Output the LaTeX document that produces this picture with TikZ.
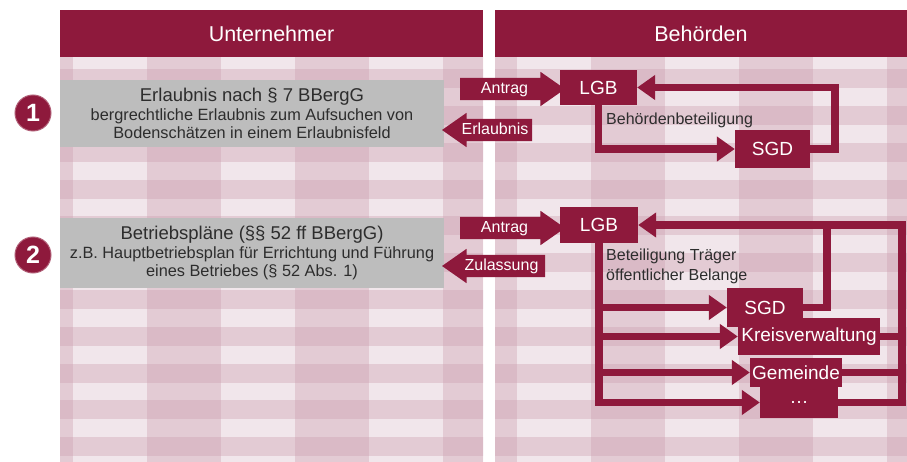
\documentclass[tikz,border=0pt]{standalone}
\usepackage{fontspec}
\setmainfont{Liberation Sans}
\usetikzlibrary{shapes.arrows,arrows.meta}
\definecolor{bred}{RGB}{142,25,60}
\definecolor{plaidbase}{RGB}{241,230,235}
\definecolor{plaidband}{RGB}{205,160,176}
\definecolor{boxgrey}{RGB}{189,189,189}
\definecolor{txtgrey}{RGB}{45,45,45}
\begin{document}
\begin{tikzpicture}[x=1pt,y=-1pt]
        \tikzstyle{head} = [rectangle, fill=bred, text=white, font=\fontsize{21.5}{24}\selectfont, minimum height=47pt, inner sep=0pt]
        \tikzstyle{block} = [rectangle, fill=bred, text=white, font=\fontsize{19}{22}\selectfont, inner sep=0pt]
        \tikzstyle{greybox} = [rectangle, fill=boxgrey, text=txtgrey, minimum width=384pt, align=center, font=\fontsize{16.3}{18.5}\selectfont, inner sep=0pt]
        \tikzstyle{arrowbox} = [single arrow, fill=bred, text=white, font=\fontsize{16}{18}\selectfont, single arrow head extend=6pt, single arrow tip angle=70, inner ysep=3.5pt, inner xsep=2pt, text height=12pt, text depth=3pt]
        \tikzstyle{num} = [circle, fill=bred, draw=bred!70!white, line width=1pt, text=white, font=\bfseries\fontsize{25}{25}\selectfont, minimum size=36pt, inner sep=0pt]
        \tikzstyle{note} = [text=txtgrey, font=\fontsize{16}{20}\selectfont, inner sep=0pt]
        \tikzstyle{line} = [-{Triangle[length=18pt,width=24pt]}, draw=bred, line width=7.5pt]
        \tikzstyle{rline} = [draw=bred, line width=7.5pt]
        \useasboundingbox (0,0) rectangle (907,462);
        % plaid background
        \foreach \xa/\xb in {60/483, 495/907} {
            \begin{scope}
                \clip (\xa,57) rectangle (\xb,462);
                \fill[plaidbase] (\xa,57) rectangle (\xb,462);
                \foreach \k in {0,...,6} \fill[plaidband, opacity=.38] (-1+148*\k,57) rectangle +(74,405);
                \foreach \k in {-7,...,4} \fill[plaidband, opacity=.38] (0,290+36.8*\k) rectangle +(907,19);
            \end{scope}
        }
        \node[head, minimum width=423pt] (unt) at (271.5,33.5) {Unternehmer};
        \node[head, minimum width=412pt] (beh) at (701,33.5) {Behörden};
        \node[num] (n1) at (33,113) {1};
        \node[num] (n2) at (33,255) {2};
        \node[greybox, minimum height=67pt] (erlbox) at (252,113.5) {{\fontsize{18.5}{21}\selectfont Erlaubnis nach § 7 BBergG}\\bergrechtliche Erlaubnis zum Aufsuchen von\\Bodenschätzen in einem Erlaubnisfeld};
        \node[greybox, minimum height=70pt] (betrbox) at (252,253) {{\fontsize{18.5}{21}\selectfont Betriebspläne (§§ 52 ff BBergG)}\\z.B. Hauptbetriebsplan für Errichtung und Führung\\eines Betriebes (§ 52 Abs. 1)};
        \node[arrowbox, minimum height=105pt] (antA) at (504.5,89) {Antrag};
        \node[arrowbox, minimum height=90pt, shape border rotate=180] (erl) at (495,130) {Erlaubnis};
        \node[arrowbox, minimum height=105pt] (antB) at (504.5,228) {Antrag};
        \node[arrowbox, minimum height=103pt, shape border rotate=180] (zul) at (501.5,266) {Zulassung};
        \node[block, minimum width=77pt, minimum height=35pt] (lgbA) at (598.5,87.5) {LGB};
        \node[block, minimum width=75pt, minimum height=38pt] (sgdA) at (772.5,149) {SGD};
        \node[block, minimum width=78pt, minimum height=36pt] (lgbB) at (599,225) {LGB};
        \node[block, minimum width=76pt, minimum height=39pt] (sgdB) at (765,307.5) {SGD};
        \node[block, minimum width=142pt, minimum height=37pt] (kreis) at (809,336.5) {Kreisverwaltung};
        \node[block, minimum width=92pt, minimum height=29pt] (gem) at (796,372.5) {Gemeinde};
        \node[block, minimum width=78pt, minimum height=31pt] (etc) at (799,402.5) {\dots};
        \node[note, anchor=west] (beteilA) at (606,120) {Behördenbeteiligung};
        \node[note, anchor=north west, align=left] (beteilB) at (606,249) {Beteiligung Träger\\öffentlicher Belange};
        \coordinate (retA) at (835,87.5);
        \coordinate (innB) at (827,225);
        \coordinate (topB) at (902,225);
        \draw[line] (lgbA.south) |- (sgdA.west);
        \draw[line] (sgdA.east) -| (retA) -- (lgbA.east);
        \draw[line] (lgbB.south) |- (etc.west);
        \draw[line] (lgbB.south |- sgdB.west) -- (sgdB.west);
        \draw[line] (lgbB.south |- kreis.west) -- (kreis.west);
        \draw[line] (lgbB.south |- gem.west) -- (gem.west);
        \draw[line] (etc.east) -| (topB) -- (lgbB.east);
        \draw[rline] (kreis.east) -- (kreis.east -| topB);
        \draw[rline] (gem.east) -- (gem.east -| topB);
        \draw[rline] (sgdB.east) -| (innB);
    \end{tikzpicture}
\end{document}
